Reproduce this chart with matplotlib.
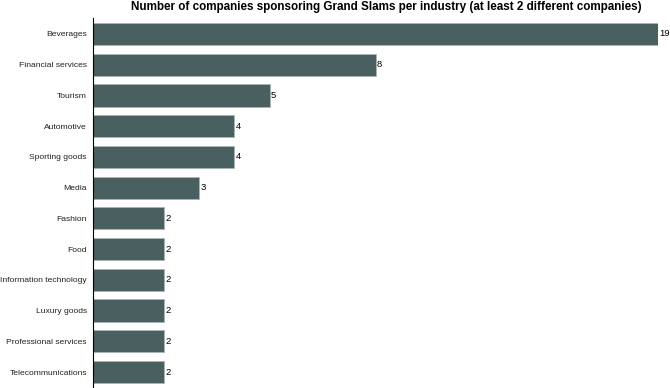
import matplotlib.pyplot as plt
import numpy as np

plt.rcParams["font.family"] = ["Liberation Sans", "DejaVu Sans"]

industries = [
    "Beverages", "Financial services", "Tourism", "Automotive",
    "Sporting goods", "Media", "Fashion", "Food",
    "Information technology", "Luxury goods", "Professional services",
    "Telecommunications",
]
counts = [19, 8, 5, 4, 4, 3, 2, 2, 2, 2, 2, 2]

x_max = 16

fig = plt.figure(figsize=(6.7, 3.88), dpi=100)
ax = fig.add_axes([93 / 670, 0, 565 / 670, 370 / 388])

y = np.arange(len(industries))
ax.barh(y, counts, height=0.72, color="#4a5f60", edgecolor="#a9b6b6", linewidth=0.6)

for yi, c in zip(y, counts):
    ax.text(min(c, x_max) + 0.04, yi, str(c), va="center", ha="left", fontsize=6.8,
            clip_on=False)

ax.set_xlim(0, x_max)
ax.set_ylim(len(industries) - 0.48, -0.52)
ax.set_yticks(y)
ax.set_yticklabels(industries, fontsize=6.1, color="#222222")
ax.tick_params(axis="y", length=0, pad=4.5)
ax.set_xticks([])
for s in ["top", "right", "bottom"]:
    ax.spines[s].set_visible(False)
ax.spines["left"].set_linewidth(0.8)

fig.text(386 / 670, 1 - 7 / 388, "Number of companies sponsoring Grand Slams per industry (at least 2 different companies)",
         ha="center", va="center", fontsize=8.4, fontweight="bold")

fig.savefig("out.png", dpi=100)
